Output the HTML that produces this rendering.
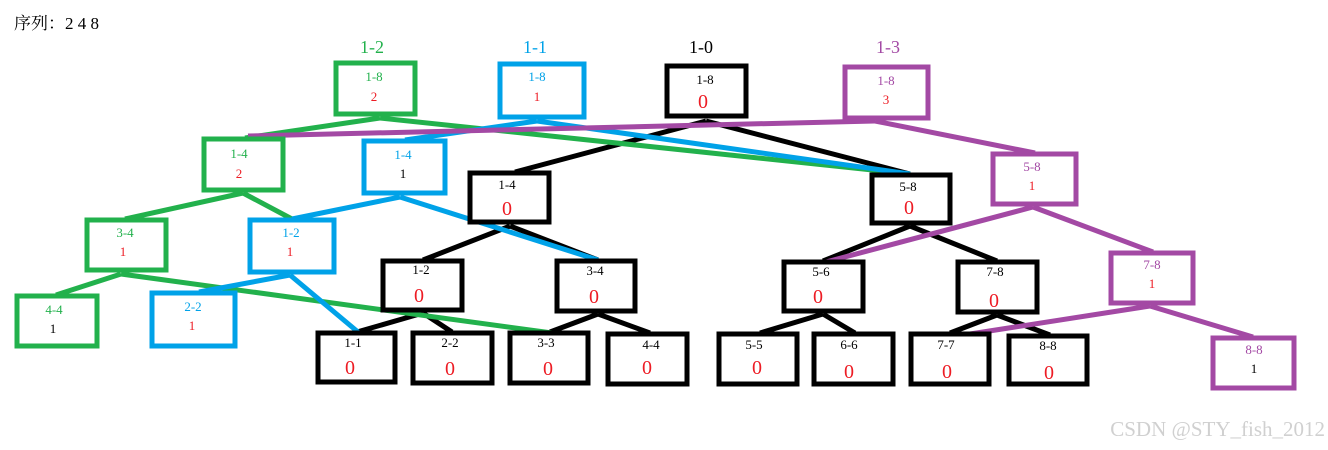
<!DOCTYPE html>
<html><head><meta charset="utf-8"><style>
html,body{margin:0;padding:0;background:#fff;}
svg{display:block;}
text{font-family:"Liberation Serif","Noto Serif CJK SC",serif;}
</style></head><body>
<svg width="1328" height="450" viewBox="0 0 1328 450" xmlns="http://www.w3.org/2000/svg">
<text x="14" y="29" font-size="17" fill="#000">序列：2 4 8</text>
<g font-size="18" text-anchor="middle">
<text x="372" y="53" fill="#22b14c">1-2</text>
<text x="535" y="53" fill="#00a2e8">1-1</text>
<text x="701" y="53" fill="#000">1-0</text>
<text x="888" y="53" fill="#a349a4">1-3</text>
</g>
<!-- black lines -->
<g stroke="#000" stroke-width="5" fill="none">
<line x1="706" y1="121" x2="515" y2="172"/><line x1="706" y1="121" x2="910" y2="174"/>
<line x1="510" y1="226" x2="423" y2="260"/><line x1="510" y1="226" x2="598" y2="260"/>
<line x1="423" y1="313" x2="357" y2="332"/><line x1="423" y1="313" x2="452" y2="332"/>
<line x1="598" y1="314" x2="550" y2="332"/><line x1="598" y1="314" x2="650" y2="333"/>
<line x1="910" y1="226" x2="823" y2="261"/><line x1="910" y1="226" x2="997" y2="261"/>
<line x1="823" y1="314" x2="760" y2="333"/><line x1="823" y1="314" x2="855" y2="333"/>
<line x1="997" y1="315" x2="950" y2="333"/><line x1="997" y1="315" x2="1050" y2="335"/>
</g>
<!-- green -->
<g stroke="#22b14c" stroke-width="5" fill="none">
<line x1="380" y1="118" x2="245" y2="138"/><line x1="380" y1="118" x2="910" y2="174"/>
<line x1="243" y1="193" x2="125" y2="219"/><line x1="243" y1="193" x2="292" y2="219"/>
<line x1="121" y1="274" x2="56" y2="295"/><line x1="121" y1="274" x2="552" y2="333"/>
</g>
<!-- blue -->
<g stroke="#00a2e8" stroke-width="5" fill="none">
<line x1="537" y1="121" x2="405" y2="140"/><line x1="537" y1="121" x2="910" y2="174"/>
<line x1="400" y1="197" x2="292" y2="219"/><line x1="400" y1="197" x2="598" y2="260"/>
<line x1="290" y1="275" x2="199" y2="292"/><line x1="290" y1="275" x2="358" y2="332"/>
</g>
<!-- purple -->
<g stroke="#a349a4" stroke-width="5" fill="none">
<line x1="875" y1="121" x2="248" y2="136"/><line x1="875" y1="121" x2="1035" y2="153"/>
<line x1="1033" y1="207" x2="826" y2="262"/><line x1="1033" y1="207" x2="1153" y2="252"/>
<line x1="1150" y1="306" x2="970" y2="334"/><line x1="1150" y1="306" x2="1253" y2="337"/>
</g>
<!-- boxes -->
<g fill="#fff" stroke-width="5">
<rect x="336" y="63" width="79" height="51" stroke="#22b14c"/>
<rect x="500" y="64" width="84" height="53" stroke="#00a2e8"/>
<rect x="667" y="66" width="79" height="50" stroke="#000"/>
<rect x="845" y="67" width="83" height="51" stroke="#a349a4"/>
<rect x="204" y="139" width="79" height="51" stroke="#22b14c"/>
<rect x="364" y="141" width="81" height="52" stroke="#00a2e8"/>
<rect x="470" y="173" width="79" height="49" stroke="#000"/>
<rect x="872" y="175" width="78" height="48" stroke="#000"/>
<rect x="993" y="154" width="83" height="50" stroke="#a349a4"/>
<rect x="87" y="220" width="79" height="50" stroke="#22b14c"/>
<rect x="250" y="220" width="84" height="52" stroke="#00a2e8"/>
<rect x="383" y="261" width="79" height="49" stroke="#000"/>
<rect x="557" y="261" width="78" height="50" stroke="#000"/>
<rect x="784" y="262" width="79" height="49" stroke="#000"/>
<rect x="958" y="262" width="79" height="50" stroke="#000"/>
<rect x="1111" y="253" width="82" height="50" stroke="#a349a4"/>
<rect x="17" y="296" width="80" height="50" stroke="#22b14c"/>
<rect x="152" y="293" width="83" height="53" stroke="#00a2e8"/>
<rect x="318" y="333" width="77" height="49" stroke="#000"/>
<rect x="413" y="333" width="79" height="50" stroke="#000"/>
<rect x="510" y="333" width="78" height="50" stroke="#000"/>
<rect x="608" y="334" width="79" height="50" stroke="#000"/>
<rect x="719" y="334" width="78" height="50" stroke="#000"/>
<rect x="814" y="334" width="79" height="50" stroke="#000"/>
<rect x="911" y="334" width="78" height="50" stroke="#000"/>
<rect x="1009" y="336" width="78" height="48" stroke="#000"/>
<rect x="1213" y="338" width="81" height="50" stroke="#a349a4"/>
</g>
<!-- labels -->
<g font-size="13" text-anchor="middle">
<text x="374" y="81" fill="#22b14c">1-8</text><text x="374" y="101" fill="#ed1c24">2</text>
<text x="537" y="81" fill="#00a2e8">1-8</text><text x="537" y="101" fill="#ed1c24">1</text>
<text x="705" y="84" fill="#000">1-8</text>
<text x="886" y="85" fill="#a349a4">1-8</text><text x="886" y="104" fill="#ed1c24">3</text>
<text x="239" y="158" fill="#22b14c">1-4</text><text x="239" y="178" fill="#ed1c24">2</text>
<text x="403" y="159" fill="#00a2e8">1-4</text><text x="403" y="178" fill="#000">1</text>
<text x="507" y="189" fill="#000">1-4</text>
<text x="908" y="191" fill="#000">5-8</text>
<text x="1032" y="171" fill="#a349a4">5-8</text><text x="1032" y="190" fill="#ed1c24">1</text>
<text x="125" y="237" fill="#22b14c">3-4</text><text x="123" y="256" fill="#ed1c24">1</text>
<text x="291" y="237" fill="#00a2e8">1-2</text><text x="290" y="256" fill="#ed1c24">1</text>
<text x="421" y="274" fill="#000">1-2</text>
<text x="595" y="275" fill="#000">3-4</text>
<text x="821" y="276" fill="#000">5-6</text>
<text x="995" y="276" fill="#000">7-8</text>
<text x="1152" y="269" fill="#a349a4">7-8</text><text x="1152" y="288" fill="#ed1c24">1</text>
<text x="54" y="314" fill="#22b14c">4-4</text><text x="53" y="333" fill="#000">1</text>
<text x="193" y="311" fill="#00a2e8">2-2</text><text x="192" y="330" fill="#ed1c24">1</text>
<text x="353" y="347" fill="#000">1-1</text>
<text x="450" y="347" fill="#000">2-2</text>
<text x="546" y="347" fill="#000">3-3</text>
<text x="651" y="349" fill="#000">4-4</text>
<text x="754" y="349" fill="#000">5-5</text>
<text x="849" y="349" fill="#000">6-6</text>
<text x="946" y="349" fill="#000">7-7</text>
<text x="1048" y="350" fill="#000">8-8</text>
<text x="1254" y="354" fill="#a349a4">8-8</text><text x="1254" y="373" fill="#000">1</text>
</g>
<g font-size="20" text-anchor="middle" fill="#ed1c24" font-family="Liberation Sans, sans-serif">
<text x="703" y="108">0</text>
<text x="507" y="215">0</text>
<text x="909" y="214">0</text>
<text x="419" y="302">0</text>
<text x="594" y="303">0</text>
<text x="818" y="303">0</text>
<text x="994" y="307">0</text>
<text x="350" y="374">0</text>
<text x="450" y="375">0</text>
<text x="548" y="375">0</text>
<text x="647" y="374">0</text>
<text x="757" y="374">0</text>
<text x="849" y="378">0</text>
<text x="947" y="378">0</text>
<text x="1049" y="379">0</text>
</g>
<text x="1325" y="436" font-size="21" text-anchor="end" fill="#d0d0d0" font-family="Liberation Sans, sans-serif">CSDN @STY_fish_2012</text>
</svg>
</body></html>
